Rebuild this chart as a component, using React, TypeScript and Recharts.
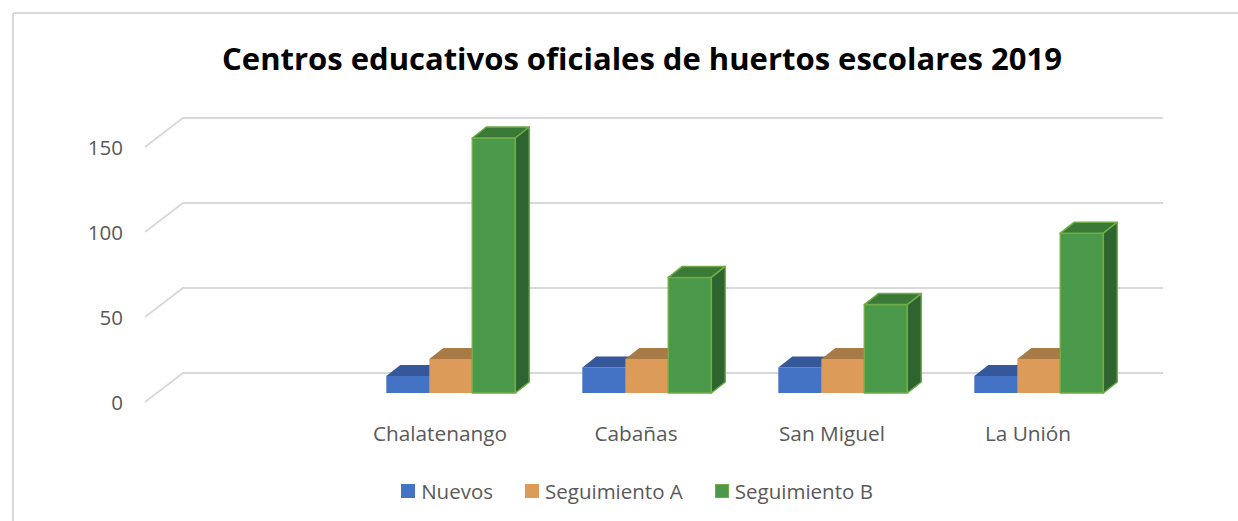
import React from 'react';
import { BarChart, Bar, XAxis, YAxis, CartesianGrid, Legend } from 'recharts';

const categories = ['', 'Chalatenango', 'Cabañas', 'San Miguel', 'La Unión'];
const nuevos = [null, 10, 15, 15, 10];
const seguimientoA = [null, 20, 20, 20, 20];
const seguimientoB = [null, 150, 68, 52, 94];
const yTicks = [0, 50, 100, 150];

const seriesKeys = ['nuevos', 'segA', 'segB'];
const seriesNames = ['Nuevos', 'Seguimiento A', 'Seguimiento B'];
const palettes = [
  { front: '#4472C4', top: '#34589A', side: '#2B4A80', stroke: 'none' },
  { front: '#DC9B58', top: '#A87A45', side: '#8E6235', stroke: 'none' },
  { front: '#4B9A4B', top: '#3A7A36', side: '#2E6430', stroke: '#70AD47' },
];

const title = 'Centros educativos oficiales de huertos escolares 2019';

const data = categories.map((c, i) => ({
  cat: c,
  nuevos: nuevos[i],
  segA: seguimientoA[i],
  segB: seguimientoB[i],
}));

const FONT = "'Open Sans', sans-serif";
const DX = 14;
const DY = 11;

const makeShape = (p: any) => (props: any) => {
  const { x, y, width, height, value } = props;
  if (value == null || !height || height <= 0) return null;
  const w = width;
  const top = `${x},${y} ${x + DX},${y - DY} ${x + w + DX},${y - DY} ${x + w},${y}`;
  const side = `${x + w},${y} ${x + w + DX},${y - DY} ${x + w + DX},${y + height - DY} ${x + w},${y + height}`;
  const sw = p.stroke === 'none' ? 0 : 1.5;
  return (
    <g>
      <rect x={x} y={y} width={w} height={height} fill={p.front} stroke={p.stroke} strokeWidth={sw} />
      <polygon points={top} fill={p.top} stroke={p.stroke} strokeWidth={sw} strokeLinejoin="round" />
      <polygon points={side} fill={p.side} stroke={p.stroke} strokeWidth={sw} strokeLinejoin="round" />
    </g>
  );
};

const gridLine = (props: any) => {
  const { x1, x2, y1 } = props;
  const d = `M${x1 - 12},${y1 + 9} L${x1 + 26},${y1 - 20} L${x2 + 26},${y1 - 20}`;
  return <path key={`g-${y1}`} d={d} stroke="#D9D9D9" strokeWidth={2} fill="none" />;
};

const YTick = (props: any) => {
  const { y, payload } = props;
  return (
    <text x={123} y={y + 9} textAnchor="end" dominantBaseline="central" fill="#595959" fontSize={20.5} fontFamily={FONT}>
      {payload.value}
    </text>
  );
};

const XTick = (props: any) => {
  const { x, y, payload } = props;
  return (
    <text x={x - 11} y={y + 32} textAnchor="middle" dominantBaseline="central" fill="#595959" fontSize={20.8} fontFamily={FONT}>
      {payload.value}
    </text>
  );
};

const LegendContent = () => (
  <div
    style={{
      display: 'flex',
      justifyContent: 'center',
      alignItems: 'center',
      gap: 32,
      fontFamily: FONT,
      fontSize: 20.5,
      color: '#595959',
      height: 26,
      lineHeight: '26px',
    }}
  >
    {seriesNames.map((n, i) => (
      <div key={n} style={{ display: 'flex', alignItems: 'center' }}>
        <span
          style={{
            display: 'inline-block',
            width: 14,
            height: 14,
            boxSizing: 'border-box',
            background: palettes[i].front,
            border: palettes[i].stroke === 'none' ? 'none' : `1.5px solid ${palettes[i].stroke}`,
          }}
        />
        <span style={{ marginLeft: 6 }}>{n}</span>
      </div>
    ))}
  </div>
);

export default function App() {
  return (
    <div style={{ position: 'absolute', left: 0, top: 0, width: 1238, height: 521, background: '#fff', overflow: 'hidden' }}>
      <svg width={1238} height={521} style={{ position: 'absolute', left: 0, top: 0 }}>
        <line x1={13} y1={13} x2={1238} y2={13} stroke="#D9D9D9" strokeWidth={2} />
        <line x1={13} y1={13} x2={13} y2={521} stroke="#D9D9D9" strokeWidth={2} />
        <text x={642} y={70} textAnchor="middle" fontFamily={FONT} fontWeight="bold" fontSize={31} fill="#000">
          {title}
        </text>
      </svg>
      <div style={{ position: 'absolute', left: 0, top: 0 }}>
        <BarChart
          width={1238}
          height={521}
          data={data}
          margin={{ top: 138, right: 101, bottom: 88, left: 97 }}
          barCategoryGap="17%"
          barGap={0}
        >
          <CartesianGrid vertical={false} horizontal={gridLine} />
          <XAxis dataKey="cat" height={40} axisLine={false} tickLine={false} tick={<XTick />} interval={0} />
          <YAxis width={60} domain={[0, 150]} ticks={yTicks} axisLine={false} tickLine={false} tick={<YTick />} />
          <Legend
            verticalAlign="middle"
            align="center"
            layout="horizontal"
            wrapperStyle={{ top: 478, left: 18, width: 1238 }}
            content={<LegendContent />}
          />
          {seriesKeys.map((k, i) => (
            <Bar
              key={k}
              dataKey={k}
              name={seriesNames[i]}
              fill={palettes[i].front}
              isAnimationActive={false}
              shape={makeShape(palettes[i])}
            />
          ))}
        </BarChart>
      </div>
    </div>
  );
}
